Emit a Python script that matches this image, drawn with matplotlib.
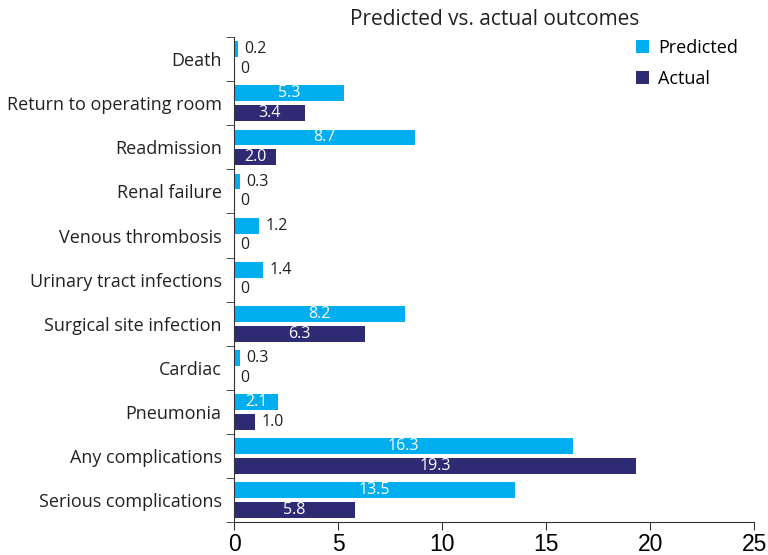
import matplotlib.pyplot as plt
import numpy as np

categories = ['Death', 'Return to operating room', 'Readmission', 'Renal failure',
              'Venous thrombosis', 'Urinary tract infections', 'Surgical site infection',
              'Cardiac', 'Pneumonia', 'Any complications', 'Serious complications']
predicted = [0.2, 5.3, 8.7, 0.3, 1.2, 1.4, 8.2, 0.3, 2.1, 16.3, 13.5]
actual = [0, 3.4, 2.0, 0, 0, 0, 6.3, 0, 1.0, 19.3, 5.8]
pred_labels = ['0.2', '5.3', '8.7', '0.3', '1.2', '1.4', '8.2', '0.3', '2.1', '16.3', '13.5']
act_labels = ['0', '3.4', '2.0', '0', '0', '0', '6.3', '0', '1.0', '19.3', '5.8']

c_pred = '#00AEEF'
c_act = '#2E2A74'

fig = plt.figure(figsize=(7.68, 5.55), dpi=100)
ax = fig.add_axes([0.305, 0.0595, 0.677, 0.8735])

y = np.arange(len(categories))
h = 0.36
off = 0.225
ax.barh(y - off, predicted, height=h, color=c_pred, label='Predicted')
ax.barh(y + off, actual, height=h, color=c_act, label='Actual')

def put_labels(vals, texts, ys):
    for v, t, yy in zip(vals, texts, ys):
        if v >= 2:
            ax.text(v / 2, yy, t, color='white', ha='center', va='center',
                    fontsize=11.5, family='Open Sans')
        else:
            ax.text(v + 0.3, yy, t, color='#222222', ha='left', va='center',
                    fontsize=11.5, family='Open Sans')

put_labels(predicted, pred_labels, y - off)
put_labels(actual, act_labels, y + off)

ax.set_ylim(len(categories) - 0.5, -0.5)
ax.set_xlim(0, 25)
ax.set_xticks([0, 5, 10, 15, 20, 25])
ax.set_yticks(y)
ax.set_yticklabels(categories, fontsize=13, family='Open Sans', color='#222222')
ax.set_yticks(np.arange(len(categories) + 1) - 0.5, minor=True)
ax.tick_params(axis='y', which='major', length=0, pad=9)
ax.tick_params(axis='y', which='minor', length=6, color='#333333')
ax.tick_params(axis='x', length=6, color='#333333', labelsize=16.5, pad=2)
for lab in ax.get_xticklabels():
    lab.set_family('Liberation Sans')

for s in ['top', 'right']:
    ax.spines[s].set_visible(False)
ax.spines['left'].set_color('#333333')
ax.spines['bottom'].set_color('#333333')

ax.set_title('Predicted vs. actual outcomes', fontsize=15, family='Open Sans',
             color='#222222', pad=9)

ax.legend(loc='upper right', bbox_to_anchor=(1.0, 1.03), frameon=False,
          handlelength=0.7, handleheight=0.7, handletextpad=0.5, labelspacing=0.7,
          prop={'family': 'Open Sans', 'size': 13})

fig.savefig('out.png', dpi=100)
